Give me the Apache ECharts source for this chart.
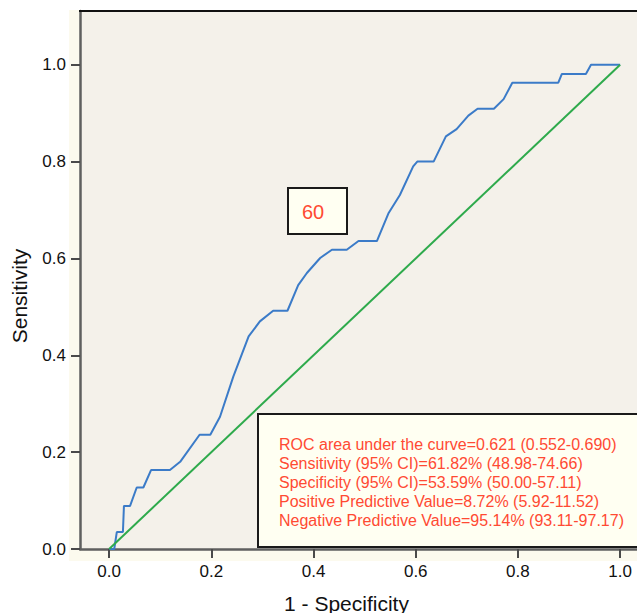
<!DOCTYPE html>
<html>
<head>
<meta charset="utf-8">
<script src="https://cdn.jsdelivr.net/npm/echarts@6/dist/echarts.min.js"></script>
<style>
  html, body { margin: 0; padding: 0; background: #fff; }
  #chart { width: 637px; height: 613px; }
</style>
</head>
<body>
<div id="chart"></div>
<script>
// ROC curve points (1 - specificity, sensitivity)
const fpr = [0, 0.01, 0.015, 0.027, 0.029, 0.041, 0.054, 0.067, 0.082, 0.119, 0.139, 0.177, 0.198,
  0.217, 0.243, 0.273, 0.295, 0.321, 0.349, 0.370, 0.387, 0.413, 0.436, 0.465, 0.488, 0.524,
  0.547, 0.569, 0.595, 0.603, 0.635, 0.659, 0.680, 0.703, 0.721, 0.753, 0.772, 0.789, 0.879,
  0.886, 0.933, 0.943, 1.0];
const tpr = [0, 0, 0.035, 0.035, 0.089, 0.089, 0.127, 0.127, 0.163, 0.163, 0.180, 0.236, 0.236,
  0.273, 0.356, 0.439, 0.470, 0.492, 0.492, 0.545, 0.570, 0.601, 0.618, 0.618, 0.636, 0.636,
  0.694, 0.731, 0.790, 0.800, 0.800, 0.852, 0.867, 0.895, 0.909, 0.909, 0.929, 0.963, 0.963,
  0.981, 0.981, 1.0, 1.0];
const refLine = [[0, 0], [1, 1]];
const tickValues = [0, 0.2, 0.4, 0.6, 0.8, 1.0];
const cutoffLabel = '60';
const statsLines = [
  'ROC area under the curve=0.621 (0.552-0.690)',
  'Sensitivity (95% CI)=61.82% (48.98-74.66)',
  'Specificity (95% CI)=53.59% (50.00-57.11)',
  'Positive Predictive Value=8.72% (5.92-11.52)',
  'Negative Predictive Value=95.14% (93.11-97.17)'
];

const FONT = '"Liberation Sans", Arial, Helvetica, sans-serif';
const RED = '#ff4a33';

const chart = echarts.init(document.getElementById('chart'), null, {renderer: 'svg'});

const axisCommon = {
  type: 'value',
  nameLocation: 'middle',
  splitLine: {show: false},
  axisLine: {show: true, onZero: false, lineStyle: {color: '#5f5f5f', width: 2.5}},
  axisTick: {show: true, inside: false, length: 9, lineStyle: {color: '#4a4a4a', width: 2}, customValues: tickValues},
  axisLabel: {
    color: '#111', fontFamily: FONT, fontSize: 17, margin: 14,
    customValues: tickValues,
    formatter: v => v.toFixed(1)
  },
  nameTextStyle: {color: '#111', fontFamily: FONT, fontSize: 21}
};

chart.setOption({
  animation: false,
  backgroundColor: '#ffffff',
  grid: {
    left: 80, right: 0, top: 11, bottom: 64,
    outerBoundsMode: 'none',
    containLabel: false,
    show: true, backgroundColor: '#f4f1ea', borderWidth: 0
  },
  xAxis: Object.assign({}, axisCommon, {
    min: -0.057, max: 1.033,
    name: '1 - Specificity', nameGap: 44,
    nameTextStyle: Object.assign({}, axisCommon.nameTextStyle, {padding: [0, 24, 0, 0]})
  }),
  yAxis: Object.assign({}, axisCommon, {
    min: 0, max: 1.111,
    name: 'Sensitivity', nameGap: 50,
    nameTextStyle: Object.assign({}, axisCommon.nameTextStyle, {padding: [0, 32, 0, 0]})
  }),
  series: [
    {
      type: 'line',
      data: fpr.map((x, i) => [x, tpr[i]]),
      showSymbol: false,
      lineStyle: {color: '#3b7bc8', width: 2},
      z: 2
    },
    {
      type: 'line',
      data: refLine,
      showSymbol: false,
      lineStyle: {color: '#2eaa4c', width: 2},
      z: 3
    }
  ],
  graphic: [
    {
      type: 'rect', z: -10, silent: true,
      shape: {x: 69, y: 10, width: 568, height: 551},
      style: {fill: '#fcfaee'}
    },
    {
      type: 'line', z: 10, silent: true,
      shape: {x1: 79, y1: 11, x2: 637, y2: 11},
      style: {stroke: '#111', lineWidth: 2}
    },
    {
      type: 'group', z: 20, silent: true,
      children: [
        {
          type: 'rect',
          shape: {x: 288, y: 188, width: 59, height: 46},
          style: {fill: '#fffff2', stroke: '#1a1a1a', lineWidth: 2}
        },
        {
          type: 'text',
          x: 313, y: 212,
          style: {text: cutoffLabel, fill: RED, font: '20px ' + FONT, align: 'center', verticalAlign: 'middle'}
        }
      ]
    },
    {
      type: 'group', z: 20, silent: true,
      children: [
        {
          type: 'rect',
          shape: {x: 258, y: 414, width: 400, height: 133},
          style: {fill: '#fffff2', stroke: '#1a1a1a', lineWidth: 2}
        },
        {
          type: 'text',
          x: 279, y: 435,
          style: {
            text: statsLines.join('\n'), fill: RED, font: '16px ' + FONT,
            lineHeight: 19, align: 'left', verticalAlign: 'top'
          }
        }
      ]
    }
  ]
});
</script>
</body>
</html>
